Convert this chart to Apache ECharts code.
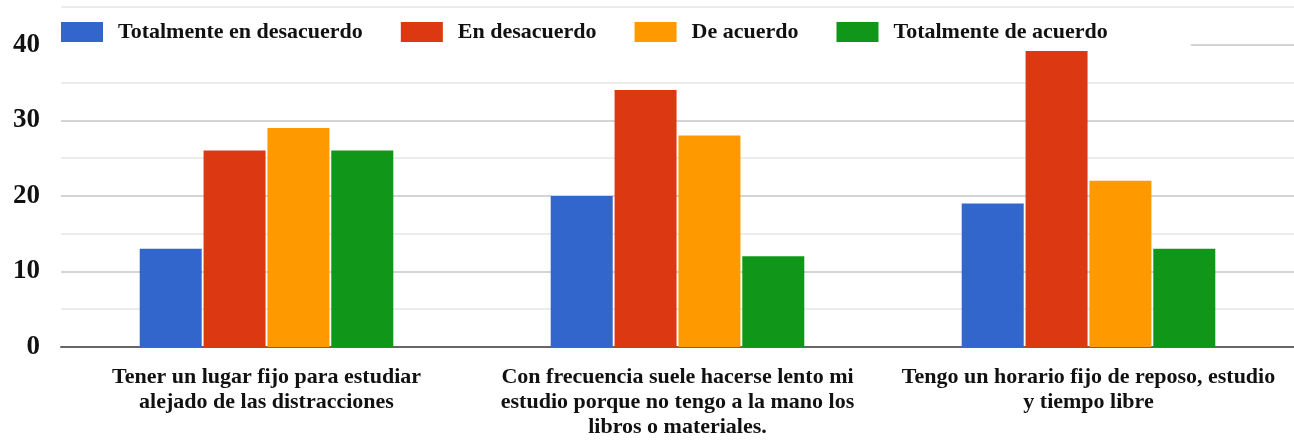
<!DOCTYPE html>
<html>
<head>
<meta charset="utf-8">
<script src="https://cdn.jsdelivr.net/npm/echarts@6/dist/echarts.min.js"></script>
<style>
html,body{margin:0;padding:0;background:#fff;}
#main{width:1294px;height:440px;}
</style>
</head>
<body>
<div id="main"></div>
<script>
var categorias = [
	'Tener un lugar fijo para estudiar\nalejado de las distracciones',
	'Con frecuencia suele hacerse lento mi\nestudio porque no tengo a la mano los\nlibros o materiales.',
	'Tengo un horario fijo de reposo, estudio\ny tiempo libre'
];
var series_nombres = ['Totalmente en desacuerdo', 'En desacuerdo', 'De acuerdo', 'Totalmente de acuerdo'];
var totalmente_desacuerdo = [13, 20, 19];
var en_desacuerdo = [26, 34, 40];
var de_acuerdo = [29, 28, 22];
var totalmente_acuerdo = [26, 12, 13];
var colores = ['#3366cc', '#dc3912', '#ff9900', '#109618'];

var fuente = '"Liberation Serif", "Times New Roman", serif';
var myChart = echarts.init(document.getElementById('main'));

function serie(i, datos){
	return {
		name: series_nombres[i],
		type: 'bar',
		data: datos,
		barWidth: 62,
		barGap: '3%',
		itemStyle: {color: colores[i]}
	};
}

var option = {
	animation: false,
	backgroundColor: '#fff',
	legend: {
		left: 61,
		top: 8,
		padding: [13, 83, 8, 0],
		backgroundColor: '#fff',
		itemWidth: 42,
		itemHeight: 20,
		itemGap: 38,
		icon: 'rect',
		textStyle: {fontFamily: fuente, fontWeight: 'bold', fontSize: 22, color: '#111', padding: [0, 0, 0, 10]},
		data: series_nombres
	},
	grid: {left: 61, right: 0, top: 7, bottom: 93},
	xAxis: {
		type: 'category',
		data: categorias,
		axisTick: {show: false},
		axisLine: {lineStyle: {color: '#666', width: 2}},
		axisLabel: {
			interval: 0,
			margin: 18,
			fontFamily: fuente,
			fontWeight: 'bold',
			fontSize: 22,
			lineHeight: 25,
			color: '#111'
		}
	},
	yAxis: {
		type: 'value',
		min: 0,
		max: 45,
		interval: 5,
		axisLine: {show: false},
		axisTick: {show: false},
		axisLabel: {
			margin: 21,
			fontFamily: fuente,
			fontWeight: 'bold',
			fontSize: 27,
			color: '#111',
			formatter: function(v){ return (v % 10 === 0 && v < 45) ? v : ''; }
		},
		splitLine: {lineStyle: {color: ['#d4d4d4', '#ececec'], width: 2}}
	},
	series: [
		serie(0, totalmente_desacuerdo),
		serie(1, en_desacuerdo),
		serie(2, de_acuerdo),
		serie(3, totalmente_acuerdo)
	]
};
myChart.setOption(option);
</script>
</body>
</html>
